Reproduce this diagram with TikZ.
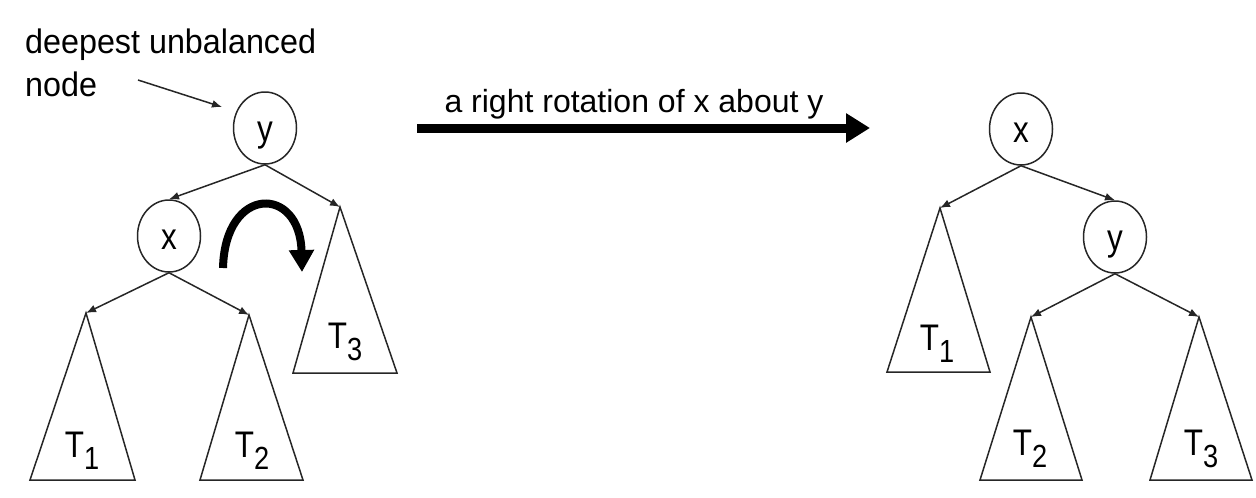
\documentclass[tikz,border=0pt]{standalone}
\usepackage{fontspec}
\setmainfont{Liberation Sans}
\usepackage{graphicx}
\usetikzlibrary{arrows.meta,shapes.geometric}
\newcommand{\tsub}[2]{\scalebox{0.85}[1]{#1\raisebox{-12pt}{\fontsize{32}{32}\selectfont #2}}}
\begin{document}
\begin{tikzpicture}[x=1pt,y=-1pt,
  lbl/.style={inner sep=0pt, font=\fontsize{34}{40}\selectfont},
  vert/.style={ellipse, draw=black!85, line width=1.5pt, minimum width=63pt, minimum height=72pt, inner sep=0pt},
  vlab/.style={anchor=base, inner sep=0pt, font=\fontsize{37}{40}\selectfont},
  edge/.style={draw=black!85, line width=1.5pt, -{Latex[length=10pt,width=8pt]}},
  tri/.style={draw=black!85, line width=1.5pt, line join=miter},
  tlab/.style={anchor=base, inner sep=0pt, font=\fontsize{37}{40}\selectfont},
  thick arrow/.style={line width=8pt, -{Triangle[length=22pt,width=24pt]}}
]
\useasboundingbox (0,0) rectangle (1256,498);

% ---------- left tree ----------
\node[vert] (ly) at (265,128) {};
\node[vert] (lx) at (169,236) {};
\node[vlab] (lyt) at ([yshift=-13pt]ly.center) {\scalebox{0.85}[1]{y}};
\node[vlab] (lxt) at ([yshift=-13pt]lx.center) {\scalebox{0.85}[1]{x}};
\coordinate (l1) at (86,313);
\coordinate (l2) at (249,315);
\coordinate (l3) at (340,207);
\draw[tri] (l1) -- (30,480) -- (135,480) -- cycle;
\draw[tri] (l2) -- (200,480) -- (303,480) -- cycle;
\draw[tri] (l3) -- (293,373) -- (397,373) -- cycle;
\node[tlab] (lt1) at (82,457) {\tsub{T}{1}};
\node[tlab] (lt2) at (252,457) {\tsub{T}{2}};
\node[tlab] (lt3) at (345,348) {\tsub{T}{3}};
\draw[edge] (ly.south) -- (lx.north);
\draw[edge] (ly.south) -- (l3);
\draw[edge] (lx.south) -- (l1);
\draw[edge] (lx.south) -- (l2);

% rotation hint arrow
\coordinate (rs) at (223,268);
\coordinate (re) at (302,272);
\draw[thick arrow] (rs) .. controls (225,185) and (300,185) .. (re);

% label
\node[lbl, anchor=base west] (d1) at (25,53) {\scalebox{0.95}[1]{deepest unbalanced}};
\node[lbl, anchor=base west] (d2) at (25,96) {\scalebox{0.95}[1]{node}};
\coordinate (pa) at (138,80);
\coordinate (pb) at (222,107);
\draw[edge] (pa) -- (pb);

% ---------- big arrow ----------
\coordinate (bs) at (417,128);
\coordinate (be) at (870,128);
\draw[line width=9pt, -{Triangle[length=24pt,width=28pt]}] (bs) -- (be);
\node[inner sep=0pt, anchor=base, font=\fontsize{32}{40}\selectfont] (rot) at (634,112) {a right rotation of x about y};

% ---------- right tree ----------
\node[vert] (rx) at (1021,129) {};
\node[vert] (ry) at (1115,237) {};
\node[vlab] (rxt) at ([yshift=-13pt]rx.center) {\scalebox{0.85}[1]{x}};
\node[vlab] (ryt) at ([yshift=-13pt]ry.center) {\scalebox{0.85}[1]{y}};
\coordinate (r1) at (940,208);
\coordinate (r2) at (1031,317);
\coordinate (r3) at (1199,317);
\draw[tri] (r1) -- (887,372) -- (990,372) -- cycle;
\draw[tri] (r2) -- (980,480) -- (1082,480) -- cycle;
\draw[tri] (r3) -- (1150,480) -- (1252,480) -- cycle;
\node[tlab] (rt1) at (937,350) {\tsub{T}{1}};
\node[tlab] (rt2) at (1030,455) {\tsub{T}{2}};
\node[tlab] (rt3) at (1201,455) {\tsub{T}{3}};
\draw[edge] (rx.south) -- (r1);
\draw[edge] (rx.south) -- (ry.north);
\draw[edge] (ry.south) -- (r2);
\draw[edge] (ry.south) -- (r3);
\end{tikzpicture}
\end{document}
